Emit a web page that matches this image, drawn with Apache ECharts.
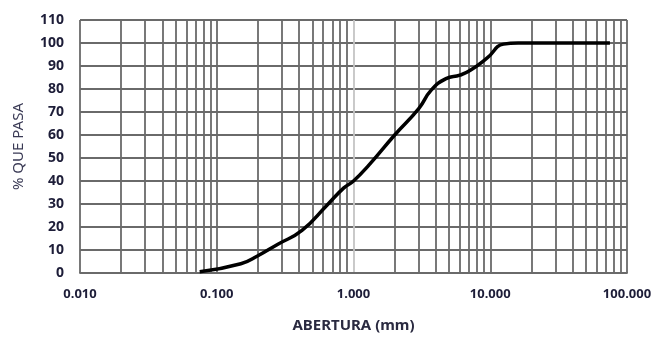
<!DOCTYPE html>
<html>
<head>
<meta charset="utf-8">
<script src="https://cdn.jsdelivr.net/npm/echarts@6/dist/echarts.min.js"></script>
<style>
  html, body { margin: 0; padding: 0; background: #fff; }
  #main { width: 656px; height: 338px; }
</style>
</head>
<body>
<div id="main"></div>
<script>
// curva granulometrica
var aberturaMm = [0.075, 0.15, 0.2, 0.28, 0.42, 0.64, 0.85, 1.0, 1.3, 2.0, 3.0, 3.7, 4.75, 6.0, 7.1, 9.5, 12.5, 16, 25, 37.5, 50, 75];
var pctPasa = [0.5, 4, 7.5, 12.5, 18.5, 29.5, 37, 40, 47, 60, 71.5, 79.5, 84.5, 86, 88, 93.5, 99.5, 100, 100, 100, 100, 100];
var decadas = [0.01, 0.1, 1, 10];

var gridColor = '#6a6a6a';
var labelColor = '#1d1d38';
var font = 'Noto Sans';

// lineas menores de la escala log (2..9 de cada decada)
var menores = [];
for (var d = 0; d < decadas.length; d++) {
  for (var k = 2; k <= 9; k++) {
    menores.push({ xAxis: +(decadas[d] * k).toPrecision(3) });
  }
}

var puntos = [];
for (var i = 0; i < aberturaMm.length; i++) {
  puntos.push([aberturaMm[i], pctPasa[i]]);
}

var myChart = echarts.init(document.getElementById('main'));
var option = {
  animation: false,
  grid: { left: 80, right: 29, top: 20, bottom: 60 },
  xAxis: {
    type: 'log',
    logBase: 10,
    min: 0.01,
    max: 100,
    name: 'ABERTURA (mm)',
    nameLocation: 'middle',
    nameGap: 45,
    nameTextStyle: { fontFamily: font, fontSize: 15, fontWeight: 'bold', color: '#2a2a40' },
    axisLine: { show: true, lineStyle: { color: gridColor, width: 1.8 } },
    axisTick: { show: false },
    axisLabel: {
      fontFamily: font, fontSize: 13, fontWeight: 'bold', color: labelColor, margin: 15,
      formatter: function (v) { return v.toFixed(3); }
    },
    splitLine: { show: true, lineStyle: { color: [gridColor, gridColor, '#c4c4c4', gridColor, gridColor], width: 1.8 } }
  },
  yAxis: {
    type: 'value',
    min: 0,
    max: 110,
    interval: 10,
    name: '% QUE PASA',
    nameLocation: 'middle',
    nameGap: 54,
    nameTextStyle: { fontFamily: font, fontSize: 15, color: '#3a3a55' },
    axisLine: { show: false },
    axisTick: { show: false },
    axisLabel: { fontFamily: font, fontSize: 14, fontWeight: 'bold', color: labelColor, margin: 16 },
    splitLine: { show: true, lineStyle: { color: gridColor, width: 1.8 } }
  },
  series: [
    {
      type: 'line',
      data: puntos,
      smooth: 0.5,
      showSymbol: false,
      lineStyle: { color: '#000', width: 3.5 },
      z: 5,
      markLine: {
        silent: true,
        symbol: ['none', 'none'],
        label: { show: false },
        lineStyle: { color: gridColor, width: 1.8, type: 'solid' },
        data: menores,
        z: 1
      }
    }
  ]
};
myChart.setOption(option);
window.onresize = myChart.resize;
</script>
</body>
</html>
